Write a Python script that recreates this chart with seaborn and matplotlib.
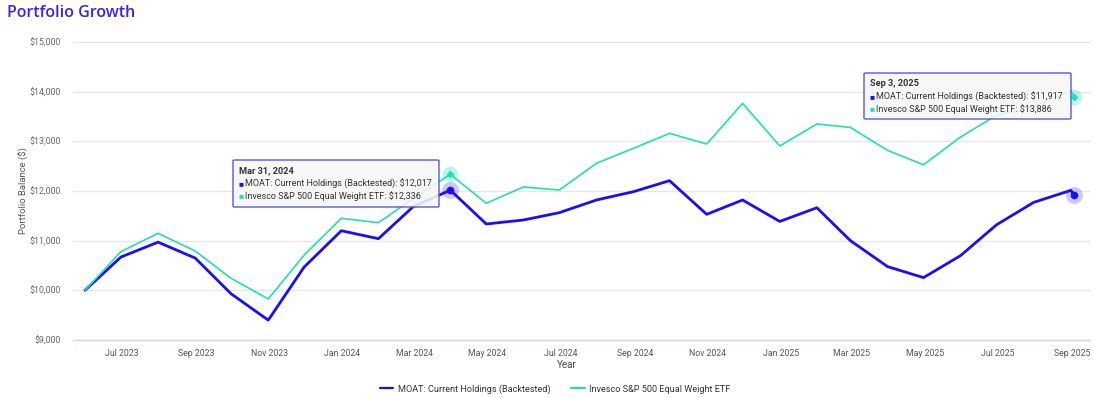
import matplotlib
matplotlib.use("Agg")
import matplotlib.pyplot as plt
import matplotlib.dates as mdates
from matplotlib.patches import FancyBboxPatch
from matplotlib.lines import Line2D
import seaborn as sns
import pandas as pd
import numpy as np

# ---- data ----
dates = ["2023-05-31", "2023-06-30", "2023-07-31", "2023-08-31", "2023-09-30",
         "2023-10-31", "2023-11-30", "2023-12-31", "2024-01-31", "2024-02-29",
         "2024-03-31", "2024-04-30", "2024-05-31", "2024-06-30", "2024-07-31",
         "2024-08-31", "2024-09-30", "2024-10-31", "2024-11-30", "2024-12-31",
         "2025-01-31", "2025-02-28", "2025-03-31", "2025-04-30", "2025-05-31",
         "2025-06-30", "2025-07-31", "2025-08-31", "2025-09-03"]
moat = [10000, 10670, 10970, 10650, 9930, 9400, 10470, 11200, 11040, 11685,
        12017, 11336, 11416, 11564, 11819, 11987, 12208, 11530, 11819, 11387,
        11663, 11000, 10478, 10256, 10700, 11320, 11771, 12013, 11917]
invesco = [10000, 10778, 11148, 10792, 10242, 9826, 10711, 11450, 11362, 11849,
           12336, 11752, 12081, 12020, 12557, 12860, 13161, 12946, 13765, 12906,
           13350, 13280, 12818, 12529, 13088, 13525, 13694, 14017, 13886]
series_names = ["MOAT: Current Holdings (Backtested)", "Invesco S&P 500 Equal Weight ETF"]
tooltip_dates = ["Mar 31, 2024", "Sep 3, 2025"]
tooltip_idx = [10, 28]
y_ticks = [9000, 10000, 11000, 12000, 13000, 14000, 15000]

colors = ["#1a0cff", "#1fe0b0"]
W, H = 1094, 398

df = pd.DataFrame({
    "Date": pd.to_datetime(dates * 2),
    "Value": moat + invesco,
    "Series": [series_names[0]] * len(moat) + [series_names[1]] * len(invesco),
})

sns.set_theme(style="white")
plt.rcParams["font.family"] = ["Roboto", "DejaVu Sans"]

fig = plt.figure(figsize=(W / 100, H / 100), dpi=100)
ax = fig.add_axes([73 / W, 1 - 340 / H, (1090 - 73) / W, (340 - 42) / H])

sns.lineplot(data=df, x="Date", y="Value", hue="Series", palette=colors,
             hue_order=series_names, ax=ax, legend=False, zorder=3)
lines = ax.get_lines()
lines[0].set_linewidth(2.0)
lines[1].set_linewidth(1.2)
for l in lines:
    l.set_solid_joinstyle("round")

# hover markers
d_all = pd.to_datetime(dates)
for i in tooltip_idx:
    ax.scatter([d_all[i]], [moat[i]], s=150, color=colors[0], alpha=0.22, lw=0, zorder=4)
    ax.scatter([d_all[i]], [moat[i]], s=30, color=colors[0], lw=0, zorder=5)
    ax.scatter([d_all[i]], [invesco[i]], s=130, color=colors[1], alpha=0.28, lw=0, zorder=4)
    ax.scatter([d_all[i]], [invesco[i]], s=16, color=colors[1], marker="D", lw=0, zorder=5)

ax.set_ylim(9000, 15000)
ax.set_xlim(pd.Timestamp("2023-05-21"), pd.Timestamp("2025-09-16"))
ax.set_yticks(y_ticks)
ax.set_yticklabels([f"${v:,.0f}" for v in y_ticks])
ax.xaxis.set_major_locator(mdates.MonthLocator(bymonth=[1, 3, 5, 7, 9, 11]))
ax.xaxis.set_major_formatter(mdates.DateFormatter("%b %Y"))

ax.grid(axis="y", color="#e6e6e6", lw=0.9)
ax.grid(axis="x", visible=False)
for s in ["top", "right", "left"]:
    ax.spines[s].set_visible(False)
ax.spines["bottom"].set_color("#ccd6eb")
ax.spines["bottom"].set_linewidth(1.0)
ax.tick_params(axis="x", colors="#ccd6eb", length=5, width=0.9, direction="out",
               labelcolor="#555555", labelsize=6.3, pad=1.5)
ax.tick_params(axis="y", length=0, labelcolor="#666666", labelsize=6.3, pad=9)

ax.set_xlabel("Year", fontsize=7, color="#444444")
ax.set_ylabel("Portfolio Balance ($)", fontsize=6.8, color="#555555")
ax.xaxis.set_label_coords((567 - 73) / (1090 - 73), -0.068)
ax.yaxis.set_label_coords(-0.043, 0.5)

# title
fig.text(7 / W, 1 - 13 / H, "Portfolio Growth", fontsize=11.5, color="#3a1ef5",
         fontweight="semibold", va="center", ha="left", family=["Open Sans", "DejaVu Sans"])


def px(x, y):
    return x / W, 1 - y / H


# tooltips
boxes = [(233, 160, 439, 207), (864, 73, 1071, 119)]
for (x0, y0, x1, y1), label, i in zip(boxes, tooltip_dates, tooltip_idx):
    bx, by = px(x0, y1)
    patch = FancyBboxPatch((bx, by), (x1 - x0) / W, (y1 - y0) / H,
                           boxstyle="round,pad=0,rounding_size=0.002",
                           transform=fig.transFigure, facecolor="#f7f7f7", alpha=0.88,
                           edgecolor="#5050e6", lw=1.1, zorder=10)
    fig.patches.append(patch)
    fig.text(*px(x0 + 6, y0 + 11), label, fontsize=6.6, fontweight="bold",
             color="#333333", va="center", ha="left", zorder=11)
    vals = [moat[i], invesco[i]]
    for k in range(2):
        yy = y0 + 24 + k * 12
        fig.text(*px(x0 + 6, yy), "■", fontsize=3.8, color=colors[k],
                 va="center", ha="left", zorder=11)
        fig.text(*px(x0 + 12, yy), f"{series_names[k]}: ${vals[k]:,.0f}",
                 fontsize=6.45, color="#333333", va="center", ha="left", zorder=11)

# legend
handles = [Line2D([0], [0], color=colors[k], lw=1.6) for k in range(2)]
fig.legend(handles, series_names, loc="center", bbox_to_anchor=(555 / W, 1 - 389 / H),
           ncol=2, frameon=False, fontsize=6.6, handlelength=1.5, handletextpad=0.5,
           columnspacing=2.2, labelcolor="#333333")

fig.savefig("out.png", dpi=100)
